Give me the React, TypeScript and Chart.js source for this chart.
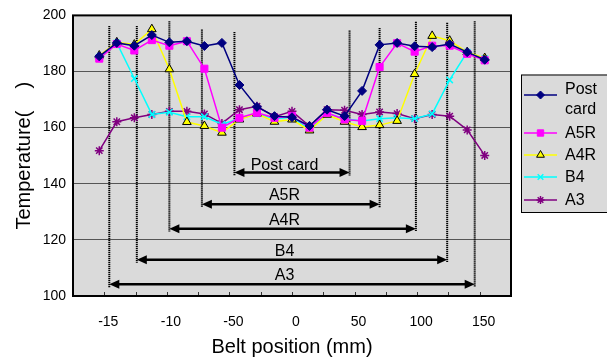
import React, { useEffect, useRef } from "react";
import { Chart, registerables } from "chart.js";
Chart.register(...registerables);

// ---- data ----
const positions = [-154, -140, -126, -112, -98, -84, -70, -56, -42, -28, -14, 0, 14, 28, 42, 56, 70, 84, 98, 112, 126, 140, 154];
const postCard = [185.4, 190.2, 189.2, 193, 190.4, 190.8, 189.1, 190.2, 175.2, 167.4, 164.1, 163.7, 160.6, 166.4, 164.1, 173.1, 189.5, 190.2, 189, 188.7, 189.8, 186.9, 184.2];
const a5r = [184.6, 189.8, 187.5, 191.2, 189.2, 190.8, 181, 160, 163.5, 165.3, 163.5, 164.1, 160, 165.3, 162.9, 162.4, 181.6, 190.1, 187.1, 189.2, 189.2, 186.3, 184];
const a4r = [185.7, 190.4, 189.6, 195.1, 180.8, 162, 160.6, 158.2, 162.9, 165, 162.1, 162.9, 159, 164.6, 162.1, 160.2, 160.9, 162.4, 179.1, 192.7, 191, 186.9, 184.8];
const b4 = [185.1, 190.2, 177.5, 164.7, 165.5, 163.9, 163.9, 161.2, 163.2, 164.9, 163.2, 163.7, 159.4, 165, 163.2, 162.4, 163.2, 163.5, 163.2, 164.9, 177, 186.9, 184.6];
const a3 = [151.8, 162.1, 163.5, 164.7, 165.8, 165.8, 164.9, 161.5, 166.4, 167.6, 163.9, 165.8, 160.6, 166.4, 166.2, 164.7, 165.6, 165, 163.2, 164.7, 164.1, 159.2, 150.1];

const seriesNames = ["Post card", "A5R", "A4R", "B4", "A3"];

// x tick labels (as printed in the original)
const xTickValues = [-150, -100, -50, 0, 50, 100, 150];
const xTickLabels = ["-15", "-10", "-50", "0", "50", "100", "150"];

// paper-size guides
const paperNames = ["Post card", "A5R", "A4R", "B4", "A3"];
const paperLeft = [-46, -72, -98, -124, -146];
const paperRight = [46, 70, 99, 124, 146];
const arrowLevel = [144, 132.7, 124, 112.9, 104.2];
const guideTopLeft = [194.1, 195, 197.9, 196.2, 196.2];
const guideTopRight = [194.6, 195.5, 197.7, 197.4, 197.9];
const paperLabelX = -6;

const FONT = "'Liberation Sans', Arial, sans-serif";
const PLOT_BG = "#dadada";

const styles = [
  { color: "#000080", fill: "#000080", point: "rectRot", radius: 4.5, bw: 1 },
  { color: "#ff00ff", fill: "#ff00ff", point: "rect", radius: 5, bw: 1 },
  { color: "#ffff00", fill: "#ffff00", point: "triangle", radius: 5, bw: 1, pointBorder: "#000000" },
  { color: "#00ffff", fill: "#00ffff", point: "crossRot", radius: 4.5, bw: 1.5 },
  { color: "#800080", fill: "#800080", point: "star", radius: 4.5, bw: 1.5 },
];

function drawMarker(ctx: CanvasRenderingContext2D, kind: string, x: number, y: number, r: number, fill: string, stroke: string, bw: number) {
  ctx.save();
  ctx.fillStyle = fill;
  ctx.strokeStyle = stroke;
  ctx.lineWidth = bw;
  ctx.setLineDash([]);
  ctx.beginPath();
  if (kind === "rectRot") {
    ctx.moveTo(x, y - r);
    ctx.lineTo(x + r, y);
    ctx.lineTo(x, y + r);
    ctx.lineTo(x - r, y);
    ctx.closePath();
    ctx.fill();
    ctx.stroke();
  } else if (kind === "rect") {
    const s = r * Math.SQRT1_2;
    ctx.rect(x - s, y - s, 2 * s, 2 * s);
    ctx.fill();
    ctx.stroke();
  } else if (kind === "triangle") {
    ctx.moveTo(x, y - r);
    ctx.lineTo(x + r * 0.866, y + r * 0.5);
    ctx.lineTo(x - r * 0.866, y + r * 0.5);
    ctx.closePath();
    ctx.fill();
    ctx.stroke();
  } else if (kind === "crossRot") {
    const s = r * Math.SQRT1_2;
    ctx.moveTo(x - s, y - s);
    ctx.lineTo(x + s, y + s);
    ctx.moveTo(x + s, y - s);
    ctx.lineTo(x - s, y + s);
    ctx.stroke();
  } else if (kind === "star") {
    const s = r * Math.SQRT1_2;
    ctx.moveTo(x - s, y - s);
    ctx.lineTo(x + s, y + s);
    ctx.moveTo(x + s, y - s);
    ctx.lineTo(x - s, y + s);
    ctx.moveTo(x, y - r);
    ctx.lineTo(x, y + r);
    ctx.moveTo(x - r, y);
    ctx.lineTo(x + r, y);
    ctx.stroke();
  }
  ctx.restore();
}

const bgPlugin = {
  id: "plotBg",
  beforeDraw(chart: any) {
    const { ctx, chartArea } = chart;
    ctx.save();
    ctx.fillStyle = PLOT_BG;
    ctx.fillRect(chartArea.left, chartArea.top, chartArea.right - chartArea.left, chartArea.bottom - chartArea.top);
    ctx.restore();
  },
};

const guidePlugin = {
  id: "guides",
  beforeDatasetsDraw(chart: any) {
    const { ctx } = chart;
    const xs = chart.scales.x;
    const ys = chart.scales.y;
    ctx.save();
    for (let i = 0; i < paperNames.length; i++) {
      const xl = xs.getPixelForValue(paperLeft[i]);
      const xr = xs.getPixelForValue(paperRight[i]);
      const ya = ys.getPixelForValue(arrowLevel[i]);
      // dotted verticals
      ctx.strokeStyle = "#000000";
      ctx.lineWidth = 2;
      ctx.setLineDash([1.2, 0.8]);
      ctx.beginPath();
      ctx.moveTo(xl, ys.getPixelForValue(guideTopLeft[i]));
      ctx.lineTo(xl, ya + 3);
      ctx.moveTo(xr, ys.getPixelForValue(guideTopRight[i]));
      ctx.lineTo(xr, ya + 3);
      ctx.stroke();
      ctx.setLineDash([]);
      // arrow shaft
      const head = 10;
      const hw = 4.5;
      ctx.lineWidth = 2.5;
      ctx.beginPath();
      ctx.moveTo(xl + head - 1, ya);
      ctx.lineTo(xr - head + 1, ya);
      ctx.stroke();
      ctx.fillStyle = "#000000";
      ctx.beginPath();
      ctx.moveTo(xl, ya);
      ctx.lineTo(xl + head, ya - hw);
      ctx.lineTo(xl + head, ya + hw);
      ctx.closePath();
      ctx.fill();
      ctx.beginPath();
      ctx.moveTo(xr, ya);
      ctx.lineTo(xr - head, ya - hw);
      ctx.lineTo(xr - head, ya + hw);
      ctx.closePath();
      ctx.fill();
      // label
      ctx.font = `16px ${FONT}`;
      ctx.textAlign = "center";
      ctx.textBaseline = "alphabetic";
      ctx.fillText(paperNames[i], xs.getPixelForValue(paperLabelX), ya - (i === 0 ? 2.5 : 4));
    }
    ctx.restore();
  },
};

const framePlugin = {
  id: "frame",
  afterDraw(chart: any) {
    const { ctx, chartArea } = chart;
    const xs = chart.scales.x;
    ctx.save();
    // inward tick marks
    ctx.strokeStyle = "#333333";
    ctx.lineWidth = 1;
    ctx.beginPath();
    for (const t of xs.ticks) {
      if (Math.abs(t.value) > 150) continue;
      const px = Math.round(xs.getPixelForValue(t.value)) + 0.5;
      ctx.moveTo(px, chartArea.bottom);
      ctx.lineTo(px, chartArea.bottom - 4);
    }
    ctx.stroke();
    // frame
    ctx.strokeStyle = "#000000";
    ctx.lineWidth = 2;
    ctx.strokeRect(chartArea.left, chartArea.top, chartArea.right - chartArea.left, chartArea.bottom - chartArea.top);

    // legend
    const lx = 521, ly = 74.5, lw = 90, lh = 137.5;
    ctx.fillStyle = PLOT_BG;
    ctx.fillRect(lx, ly, lw, lh);
    ctx.strokeStyle = "#000000";
    ctx.lineWidth = 1;
    ctx.strokeRect(lx + 0.5, ly + 0.5, lw, lh);
    const rows = [95, 133, 155, 177, 200];
    ctx.font = `16px ${FONT}`;
    ctx.textAlign = "left";
    ctx.textBaseline = "middle";
    for (let i = 0; i < seriesNames.length; i++) {
      const st = styles[i];
      const y = rows[i];
      ctx.strokeStyle = st.color;
      ctx.lineWidth = 1.5;
      ctx.beginPath();
      ctx.moveTo(524, y);
      ctx.lineTo(557, y);
      ctx.stroke();
      drawMarker(ctx, st.point, 540.5, y, st.radius - 0.5, st.fill, (st as any).pointBorder || st.color, st.bw);
      ctx.fillStyle = "#000000";
      if (i === 0) {
        ctx.fillText("Post", 565, 90);
        ctx.fillText("card", 565, 110);
      } else {
        ctx.fillText(seriesNames[i], 565, y + 1);
      }
    }
    ctx.restore();
  },
};

export default function App() {
  const ref = useRef<HTMLCanvasElement | null>(null);
  useEffect(() => {
    if (!ref.current) return;
    const values = [postCard, a5r, a4r, b4, a3];
    const datasets = values.map((vals, i) => ({
      label: seriesNames[i],
      data: vals.map((v, j) => ({ x: positions[j], y: v })),
      borderColor: styles[i].color,
      backgroundColor: styles[i].fill,
      borderWidth: 1.5,
      pointStyle: styles[i].point as any,
      pointRadius: styles[i].radius,
      pointBorderWidth: styles[i].bw,
      pointBorderColor: (styles[i] as any).pointBorder || styles[i].color,
      pointBackgroundColor: styles[i].fill,
      tension: 0,
      fill: false,
    }));
    const chart = new Chart(ref.current, {
      type: "line",
      data: { datasets },
      options: {
        animation: false,
        responsive: false,
        devicePixelRatio: 1,
        layout: { padding: { left: 0, top: 11, right: 96, bottom: 0 } },
        plugins: { legend: { display: false }, tooltip: { enabled: false } },
        scales: {
          x: {
            type: "linear",
            min: -175,
            max: 175,
            grid: { display: false, drawTicks: false },
            border: { display: false },
            ticks: {
              stepSize: 25,
              autoSkip: false,
              maxRotation: 0,
              padding: 18,
              labelOffset: 4,
              color: "#000000",
              font: { family: FONT, size: 14 },
              callback: (v: any) => {
                const k = xTickValues.indexOf(Number(v));
                return k >= 0 ? xTickLabels[k] : "";
              },
            },
            title: {
              display: true,
              text: "Belt position (mm)",
              color: "#000000",
              font: { family: FONT, size: 20 },
              padding: { top: 0, bottom: 4 },
            },
            afterFit: (s: any) => { s.height = 67; },
          },
          y: {
            min: 100,
            max: 200,
            grid: { color: "#555555", lineWidth: 1, drawTicks: false },
            border: { display: false },
            ticks: {
              stepSize: 20,
              padding: 7,
              color: "#000000",
              font: { family: FONT, size: 14 },
            },
            title: {
              display: true,
              text: "Temperature(    )",
              color: "#000000",
              font: { family: FONT, size: 20 },
              padding: { top: 12, bottom: 0 },
            },
            afterFit: (s: any) => { s.width = 73; },
          },
        },
      },
      plugins: [bgPlugin, guidePlugin, framePlugin],
    });
    return () => chart.destroy();
  }, []);
  return (
    <div style={{ position: "absolute", left: 0, top: 0, width: 607, height: 363, background: "#ffffff" }}>
      <canvas ref={ref} width={607} height={363} style={{ display: "block" }} />
    </div>
  );
}
